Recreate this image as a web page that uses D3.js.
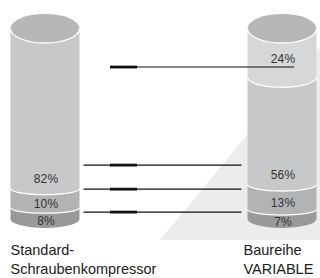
<!DOCTYPE html>
<html>
<head>
<meta charset="utf-8">
<script src="https://cdn.jsdelivr.net/npm/d3@7"></script>
<style>
  body { margin: 0; background: #fff; }
  svg { display: block; }
  .pct { font-family: "Liberation Sans", Arial, sans-serif; font-size: 12px; fill: #333; letter-spacing: 0.2px; }
  .cat { font-family: "Liberation Sans", Arial, sans-serif; font-size: 14.5px; fill: #222; }
</style>
</head>
<body>
<div id="chart"></div>
<script>
'use strict'
// chart data
const categories = ['Standard-Schraubenkompressor', 'Baureihe VARIABLE'];
const categoryLines = [['Standard-', 'Schraubenkompressor'], ['Baureihe', 'VARIABLE']];
// stacked shares, bottom to top
const standardShares = [8, 10, 82];
const variableShares = [7, 13, 56, 24];
const seriesShares = [standardShares, variableShares];
// levels (in %) of the connecting lines between both cylinders
const linkLevels = [34, 21, 8.6];
const topLinkLevel = 87;

window.addEventListener('DOMContentLoaded', function() {
    const width = 320, height = 278;
    const rx = 34.5, lidRy = 14.5, bottomRy = 9;
    const layerColors = ['#98999b', '#b2b3b5', '#c7c8ca', '#d6d7d9'];

    const svg = d3.select('#chart').append('svg')
        .attr('width', width)
        .attr('height', height);

    const xScale = d3.scalePoint()
        .domain(categories)
        .range([45, 282]);

    const yScale = d3.scaleLinear()
        .domain([0, 100])
        .range([228, 43]);

    // flatter ellipses further down
    const ryScale = d3.scaleLinear()
        .domain([100, 0])
        .range([12, 5]);

    // light background wedge behind the right cylinder
    svg.append('polygon')
        .attr('points', [[160, 240], [320, 47], [320, 240]].map(p => p.join(',')).join(' '))
        .attr('fill', '#ececec');

    // cylinders
    categories.forEach((cat, ci) => {
        const cx = xScale(cat);
        const shares = seriesShares[ci];
        let cum = 0;
        const segs = shares.map((v, i) => {
            const s = { value: v, from: cum, to: cum + v, layer: i };
            cum += v;
            return s;
        });

        const g = svg.append('g').attr('class', 'cylinder');

        // segments drawn bottom-up so the front curve of each upper one overlaps the lower
        segs.forEach((s, i) => {
            const lowRy = i === 0 ? bottomRy : ryScale(s.from);
            const bSide = yScale(s.from) - lowRy;
            const aSide = i === segs.length - 1 ? yScale(100) - lidRy : yScale(s.to) - ryScale(s.to);
            g.append('path')
                .attr('d', `M${cx - rx},${aSide} L${cx - rx},${bSide} A${rx} ${lowRy} 0 0 0 ${cx + rx},${bSide} L${cx + rx},${aSide} Z`)
                .attr('fill', layerColors[s.layer]);
            if (i > 0) {
                g.append('path')
                    .attr('d', `M${cx - rx},${bSide} A${rx} ${lowRy} 0 0 0 ${cx + rx},${bSide}`)
                    .attr('fill', 'none')
                    .attr('stroke', '#fff')
                    .attr('stroke-width', 1.3);
            }
        });

        // lid
        g.append('ellipse')
            .attr('cx', cx)
            .attr('cy', yScale(100) - lidRy)
            .attr('rx', rx)
            .attr('ry', lidRy)
            .attr('fill', '#b6b7b9');
        g.append('path')
            .attr('d', `M${cx - rx},${yScale(100) - lidRy} A${rx} ${lidRy} 0 0 0 ${cx + rx},${yScale(100) - lidRy}`)
            .attr('fill', 'none')
            .attr('stroke', '#fff')
            .attr('stroke-width', 1.3);

        // percent labels
        g.selectAll('text.pct')
            .data(segs)
            .join('text')
            .attr('class', 'pct')
            .attr('x', cx + 1)
            .attr('y', d => {
                const mid = (yScale(d.from) + yScale(d.to)) / 2;
                if (d.value > 50) return yScale(d.from) - 16;
                if (d.value > 20) return mid - 7;
                return mid;
            })
            .attr('dy', '0.36em')
            .attr('text-anchor', 'middle')
            .text(d => d.value + '%');

        // category label
        const lx = ci === 0 ? cx - rx : cx - rx - 4;
        g.append('text')
            .attr('class', 'cat')
            .attr('x', lx)
            .attr('y', 255)
            .selectAll('tspan')
            .data(categoryLines[ci])
            .join('tspan')
            .attr('x', lx)
            .attr('dy', (d, i) => i === 0 ? 0 : 19)
            .text(d => d);
    });

    // connecting lines
    const leftEdge = xScale(categories[0]) + rx + 4;
    const rightEdge = xScale(categories[1]) - rx - 6;
    const links = svg.append('g').attr('class', 'links');

    links.selectAll('line.thin')
        .data(linkLevels)
        .join('line')
        .attr('x1', leftEdge)
        .attr('x2', rightEdge)
        .attr('y1', d => yScale(d))
        .attr('y2', d => yScale(d))
        .attr('stroke', '#111')
        .attr('stroke-width', 1.1);

    links.append('line')
        .attr('x1', 110)
        .attr('x2', xScale(categories[1]) + 12)
        .attr('y1', yScale(topLinkLevel))
        .attr('y2', yScale(topLinkLevel))
        .attr('stroke', '#111')
        .attr('stroke-width', 1.1);

    links.selectAll('rect.thick')
        .data(linkLevels.concat([topLinkLevel]))
        .join('rect')
        .attr('x', 110)
        .attr('width', 27)
        .attr('y', d => yScale(d) - 1.4)
        .attr('height', 2.8)
        .attr('fill', '#111');
});
</script>
</body>
</html>
